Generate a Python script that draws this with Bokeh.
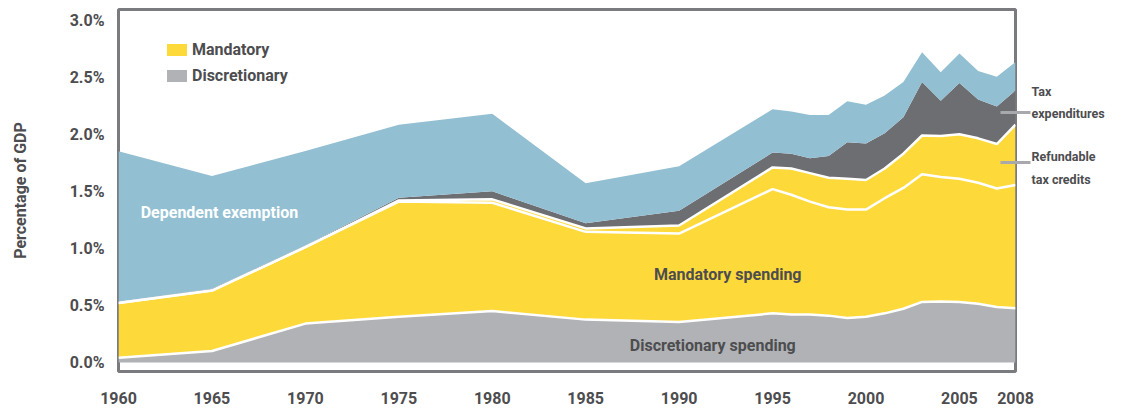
from bokeh.plotting import figure
from bokeh.models import (ColumnDataSource, Range1d, FixedTicker, PrintfTickFormatter,
                          Legend, LegendItem, Label, LinearAxis)
from bokeh.embed import file_html
from bokeh.resources import INLINE

years = [1960, 1965, 1970, 1975, 1980, 1985, 1990, 1995, 1996, 1997, 1998,
         1999, 2000, 2001, 2002, 2003, 2004, 2005, 2006, 2007, 2008]
discretionary = [0.04, 0.10, 0.34, 0.40, 0.45, 0.375, 0.355, 0.43, 0.42, 0.42, 0.41,
                 0.39, 0.40, 0.43, 0.47, 0.53, 0.535, 0.53, 0.515, 0.485, 0.475]
mandatory = [0.48, 0.53, 0.67, 1.01, 0.95, 0.77, 0.775, 1.09, 1.05, 0.99, 0.95,
             0.95, 0.94, 1.01, 1.06, 1.12, 1.09, 1.08, 1.06, 1.04, 1.08]
refundable = [0.0, 0.0, 0.0, 0.01, 0.03, 0.03, 0.07, 0.19, 0.23, 0.25, 0.26,
              0.27, 0.26, 0.26, 0.30, 0.34, 0.36, 0.39, 0.39, 0.39, 0.53]
tax_expend = [0.012, 0.015, 0.015, 0.025, 0.07, 0.045, 0.13, 0.13, 0.13, 0.13, 0.19,
              0.32, 0.32, 0.31, 0.32, 0.47, 0.31, 0.45, 0.34, 0.33, 0.30]
dependent = [1.32, 0.99, 0.83, 0.64, 0.68, 0.35, 0.39, 0.38, 0.37, 0.38, 0.36,
             0.36, 0.34, 0.33, 0.31, 0.26, 0.25, 0.26, 0.25, 0.26, 0.25]

x_ticks = [1960, 1965, 1970, 1975, 1980, 1985, 1990, 1995, 2000, 2005, 2008]
y_ticks = [0.0, 0.5, 1.0, 1.5, 2.0, 2.5, 3.0]
side_labels = {2.372: "Tax", 2.18: "expenditures", 1.805: "Refundable", 1.605: "tax credits"}
pointer_levels = [2.19, 1.75]

FONT = "Roboto"
TXT = "#4d4d4f"

source = ColumnDataSource(dict(year=years, disc=discretionary, mand=mandatory,
                               refund=refundable, taxexp=tax_expend, dep=dependent))

p = figure(width=1113, height=406, output_backend="svg", toolbar_location=None,
           x_range=Range1d(1960, 2008), y_range=Range1d(-0.08, 3.095),
           min_border_left=118, min_border_right=98, min_border_top=9, min_border_bottom=33,
           background_fill_color="white", border_fill_color="white")
p.outline_line_color = "#7a7b7e"
p.outline_line_width = 3
p.xgrid.visible = False
p.ygrid.visible = False

stackers = ["disc", "mand", "refund", "taxexp", "dep"]
colors = ["#b0b2b5", "#fed93a", "#fed93a", "#6d6e72", "#93bfd3"]
areas = p.varea_stack(stackers, x="year", color=colors, source=source)
p.vline_stack(["disc", "mand", "refund"], x="year", source=source,
              line_color="white", line_width=2.5)

for ax in (p.xaxis[0], p.yaxis[0]):
    ax.axis_line_color = None
    ax.major_tick_line_color = None
    ax.minor_tick_line_color = None
    ax.major_label_text_font = FONT
    ax.major_label_text_font_style = "bold"
    ax.major_label_text_font_size = "16px"
    ax.major_label_text_color = TXT

p.xaxis.ticker = FixedTicker(ticks=x_ticks)
p.xaxis.major_label_standoff = 14
p.yaxis.ticker = FixedTicker(ticks=y_ticks)
p.yaxis.formatter = PrintfTickFormatter(format="%.1f%%")
p.yaxis.major_label_standoff = 8
p.yaxis.axis_label = "Percentage of GDP"
p.yaxis.axis_label_text_font = FONT
p.yaxis.axis_label_text_font_style = "bold"
p.yaxis.axis_label_text_font_size = "16px"
p.yaxis.axis_label_text_color = TXT
p.yaxis.axis_label_standoff = 37

# right-hand series labels with pointer lines
rax = LinearAxis(ticker=FixedTicker(ticks=list(side_labels.keys()), minor_ticks=pointer_levels),
                 major_label_overrides=side_labels)
rax.axis_line_color = None
rax.major_tick_line_color = None
rax.major_tick_out = 0
rax.major_tick_in = 0
rax.minor_tick_line_color = "#a7a9ac"
rax.minor_tick_line_width = 3
rax.minor_tick_in = 15
rax.minor_tick_out = 15
rax.major_label_standoff = 1
rax.major_label_text_font = FONT
rax.major_label_text_font_style = "bold"
rax.major_label_text_font_size = "12.5px"
rax.major_label_text_color = TXT
p.add_layout(rax, "right")

legend = Legend(items=[LegendItem(label="Mandatory", renderers=[areas[1]]),
                       LegendItem(label="Discretionary", renderers=[areas[0]])],
                location=(46, 286), padding=0, margin=0, spacing=6,
                glyph_width=25, glyph_height=15, label_height=20, label_standoff=3,
                label_text_font=FONT, label_text_font_style="bold",
                label_text_font_size="16px", label_text_color=TXT,
                background_fill_alpha=0, border_line_alpha=0)
p.add_layout(legend)

def lab(x, y, text, color=TXT):
    p.add_layout(Label(x=x, y=y, text=text, text_font=FONT, text_font_style="bold",
                       text_font_size="16px", text_color=color, text_align="center",
                       text_baseline="middle"))

lab(1965.4, 1.317, "Dependent exemption", color="white")
lab(1992.6, 0.77, "Mandatory spending")
lab(1991.8, 0.15, "Discretionary spending")

open("out.html", "w").write(file_html(p, INLINE))
